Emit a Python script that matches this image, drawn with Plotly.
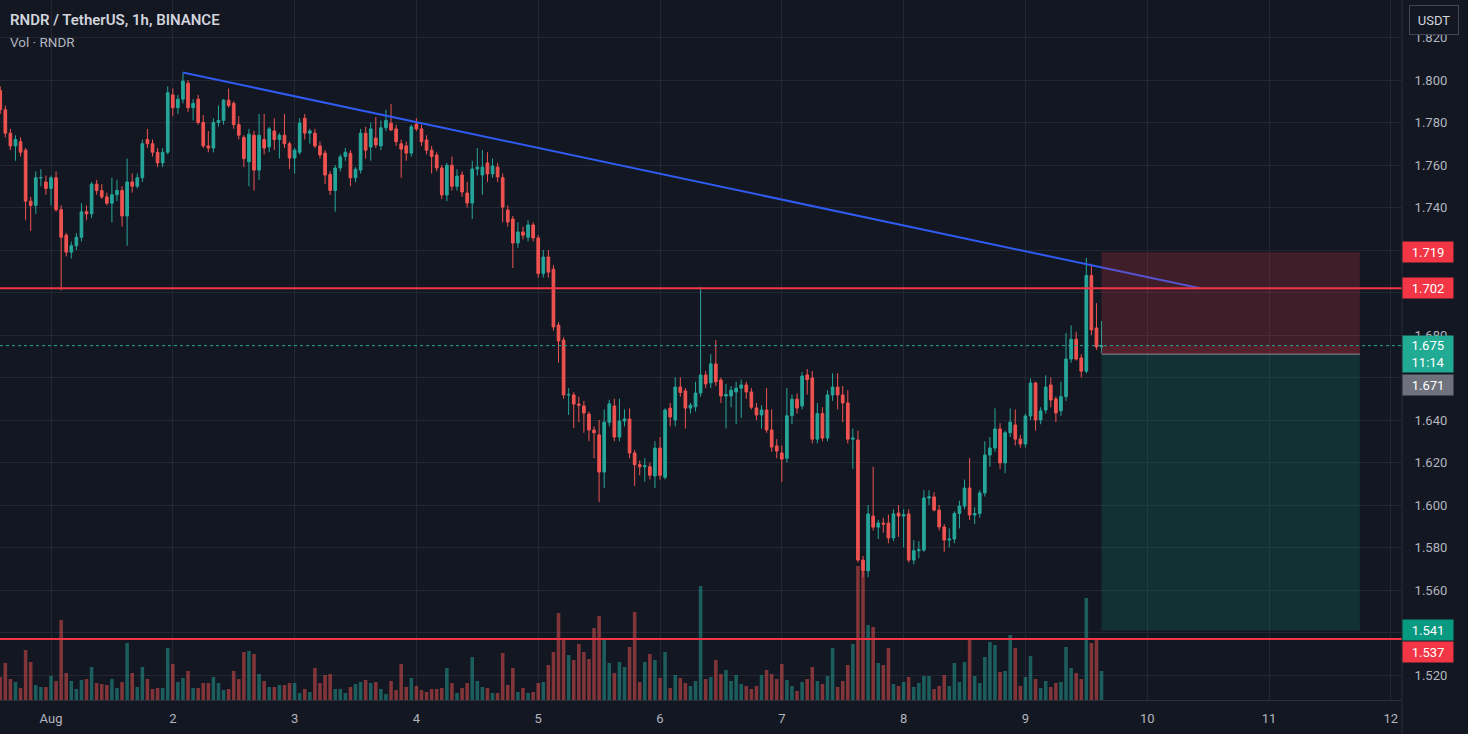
import pandas as pd
import plotly.graph_objects as go

# ---------------- data ----------------
first_candle = "2023-07-31 14:00"   # 1h candles

opens = [1.795,1.786,1.775,1.769,1.771,1.767,1.743,1.741,1.754,1.752,
         1.749,1.754,1.739,1.727,1.719,1.722,1.726,1.738,1.737,1.751,
         1.748,1.745,1.742,1.746,1.748,1.736,1.752,1.750,1.754,1.772,
         1.770,1.766,1.761,1.766,1.793,1.787,1.791,1.7985,1.787,1.791,
         1.780,1.769,1.768,1.780,1.781,1.7905,1.789,1.779,1.773,1.7615,
         1.774,1.7576,1.772,1.7685,1.776,1.772,1.774,1.770,1.7633,1.766,
         1.782,1.775,1.775,1.769,1.7656,1.7555,1.748,1.7586,1.764,1.7655,
         1.754,1.7576,1.775,1.7685,1.7727,1.769,1.7775,1.7797,1.777,1.770,
         1.769,1.7656,1.7793,1.777,1.7718,1.767,1.7647,1.7586,1.7459,1.7599,
         1.750,1.7553,1.7468,1.7421,1.7581,1.7553,1.761,1.7558,1.759,1.754,
         1.7388,1.7346,1.7233,1.7285,1.726,1.7318,1.7257,1.709,1.7167,1.711,
         1.6847,1.6776,1.6518,1.6518,1.6475,1.6466,1.6428,1.6353,1.633,1.6155,
         1.639,1.6466,1.632,1.6395,1.6405,1.6245,1.619,1.618,1.618,1.6137,
         1.6268,1.613,1.6456,1.640,1.6555,1.6537,1.6456,1.6462,1.6527,1.6612,
         1.6575,1.6664,1.6588,1.6513,1.6513,1.6532,1.655,1.6565,1.6532,1.6457,
         1.6424,1.6447,1.6353,1.6278,1.6245,1.622,1.642,1.6498,1.6466,1.6612,
         1.6598,1.631,1.643,1.6315,1.6518,1.6555,1.6518,1.648,1.631,1.6306,
         1.5741,1.569,1.5948,1.5896,1.5915,1.5915,1.5845,1.5962,1.5948,1.5958,
         1.5741,1.5785,1.5788,1.6033,1.6038,1.5976,1.5897,1.5835,1.584,1.596,
         1.5995,1.608,1.5953,1.596,1.6057,1.6235,1.6268,1.6358,1.6198,1.634,
         1.6377,1.631,1.6287,1.6419,1.6574,1.640,1.6447,1.6565,1.6499,1.6443,
         1.651,1.6687,1.678,1.6692,1.663,1.708,1.6833,1.6744]

highs = [1.797,1.788,1.777,1.774,1.773,1.768,1.745,1.757,1.758,1.755,
         1.755,1.757,1.741,1.728,1.724,1.728,1.742,1.741,1.752,1.753,
         1.751,1.747,1.754,1.753,1.750,1.763,1.756,1.756,1.772,1.777,
         1.772,1.768,1.768,1.797,1.796,1.793,1.8035,1.800,1.791,1.793,
         1.7835,1.776,1.782,1.788,1.791,1.796,1.790,1.783,1.774,1.777,
         1.776,1.784,1.784,1.778,1.782,1.775,1.784,1.771,1.768,1.782,
         1.784,1.777,1.777,1.771,1.767,1.757,1.760,1.765,1.768,1.767,
         1.759,1.777,1.778,1.780,1.7826,1.781,1.786,1.7887,1.779,1.772,
         1.771,1.779,1.782,1.779,1.774,1.769,1.766,1.760,1.761,1.764,
         1.758,1.757,1.752,1.762,1.768,1.767,1.766,1.763,1.761,1.756,
         1.741,1.736,1.733,1.731,1.734,1.733,1.727,1.720,1.720,1.713,
         1.686,1.679,1.655,1.653,1.651,1.649,1.644,1.637,1.640,1.645,
         1.6495,1.650,1.650,1.645,1.6455,1.626,1.621,1.622,1.620,1.630,
         1.632,1.6455,1.648,1.660,1.660,1.655,1.648,1.658,1.7026,1.663,
         1.671,1.6776,1.660,1.657,1.656,1.658,1.659,1.658,1.655,1.648,
         1.647,1.655,1.645,1.631,1.628,1.655,1.652,1.6525,1.6625,1.664,
         1.663,1.648,1.646,1.654,1.662,1.662,1.656,1.654,1.636,1.635,
         1.576,1.600,1.618,1.593,1.594,1.5955,1.598,1.600,1.598,1.598,
         1.5835,1.583,1.607,1.607,1.606,1.600,1.591,1.589,1.597,1.602,
         1.612,1.622,1.599,1.607,1.630,1.632,1.6455,1.6385,1.635,1.6455,
         1.645,1.633,1.643,1.6595,1.658,1.646,1.661,1.660,1.651,1.658,
         1.681,1.6845,1.6815,1.671,1.7162,1.7135,1.695,1.6866]

lows = [1.784,1.773,1.767,1.762,1.764,1.734,1.729,1.737,1.750,1.746,
        1.741,1.738,1.701,1.717,1.716,1.720,1.724,1.734,1.735,1.746,
        1.744,1.741,1.733,1.743,1.731,1.722,1.747,1.749,1.752,1.768,
        1.764,1.759,1.759,1.765,1.783,1.784,1.789,1.785,1.781,1.779,
        1.768,1.766,1.766,1.778,1.779,1.787,1.777,1.772,1.759,1.750,
        1.748,1.753,1.765,1.766,1.767,1.763,1.768,1.758,1.756,1.765,
        1.772,1.770,1.768,1.763,1.751,1.7459,1.738,1.757,1.762,1.750,
        1.752,1.756,1.763,1.762,1.768,1.767,1.776,1.776,1.769,1.754,
        1.762,1.764,1.776,1.769,1.765,1.756,1.757,1.744,1.743,1.748,
        1.748,1.745,1.740,1.7346,1.755,1.746,1.752,1.754,1.752,1.733,
        1.731,1.7115,1.721,1.725,1.724,1.724,1.707,1.707,1.707,1.682,
        1.667,1.650,1.6424,1.6362,1.639,1.634,1.630,1.622,1.6014,1.608,
        1.637,1.630,1.630,1.637,1.622,1.609,1.614,1.611,1.612,1.608,
        1.612,1.612,1.637,1.637,1.651,1.636,1.643,1.644,1.651,1.655,
        1.655,1.656,1.648,1.636,1.646,1.638,1.641,1.650,1.645,1.640,
        1.636,1.634,1.625,1.622,1.6108,1.620,1.638,1.643,1.645,1.652,
        1.629,1.629,1.630,1.630,1.649,1.645,1.639,1.629,1.617,1.573,
        1.566,1.566,1.588,1.584,1.587,1.582,1.583,1.585,1.580,1.573,
        1.572,1.575,1.578,1.600,1.597,1.588,1.578,1.580,1.582,1.589,
        1.598,1.593,1.591,1.594,1.604,1.618,1.625,1.617,1.615,1.632,
        1.628,1.627,1.627,1.640,1.635,1.638,1.643,1.646,1.639,1.642,
        1.649,1.667,1.668,1.660,1.662,1.680,1.673,1.6715]

closes = [1.786,1.775,1.769,1.772,1.766,1.743,1.741,1.754,1.754,1.749,
          1.754,1.739,1.726,1.719,1.722,1.726,1.738,1.737,1.751,1.748,
          1.745,1.742,1.746,1.748,1.736,1.752,1.750,1.754,1.770,1.770,
          1.766,1.761,1.766,1.794,1.787,1.791,1.7995,1.787,1.789,1.780,
          1.769,1.768,1.780,1.781,1.7905,1.788,1.779,1.774,1.763,1.7745,
          1.7576,1.774,1.768,1.777,1.772,1.774,1.770,1.7633,1.767,1.7797,
          1.775,1.776,1.769,1.7647,1.7553,1.748,1.7586,1.7638,1.766,1.754,
          1.758,1.775,1.767,1.777,1.7694,1.7775,1.781,1.7765,1.771,1.7675,
          1.7656,1.778,1.777,1.771,1.767,1.764,1.7586,1.7459,1.7599,1.750,
          1.7548,1.7473,1.7421,1.7581,1.759,1.759,1.7558,1.7595,1.7544,1.7402,
          1.7332,1.7233,1.7285,1.727,1.7318,1.7257,1.709,1.7167,1.7096,1.6838,
          1.6772,1.6518,1.652,1.6475,1.647,1.6433,1.6353,1.634,1.6155,1.639,
          1.6476,1.632,1.6395,1.6405,1.6245,1.619,1.618,1.6185,1.614,1.6268,
          1.614,1.6447,1.6414,1.6555,1.653,1.6456,1.647,1.6527,1.6612,1.657,
          1.6664,1.658,1.6513,1.652,1.654,1.655,1.6565,1.6532,1.646,1.6424,
          1.6447,1.6353,1.6273,1.6254,1.6216,1.642,1.6498,1.6456,1.6607,1.659,
          1.631,1.643,1.6315,1.6518,1.6555,1.6518,1.648,1.631,1.6315,1.5741,
          1.569,1.5958,1.5896,1.5915,1.591,1.5845,1.5958,1.5948,1.5955,1.5741,
          1.5785,1.579,1.6033,1.6038,1.5976,1.5897,1.5835,1.584,1.596,1.5995,
          1.608,1.5953,1.596,1.6057,1.6235,1.6268,1.6358,1.6198,1.634,1.639,
          1.631,1.6287,1.6419,1.6574,1.640,1.6443,1.6555,1.6494,1.6433,1.651,
          1.6687,1.678,1.6687,1.663,1.708,1.6824,1.6744,1.675]

volumes_k = [23,37,21,18,12,50,38,15,13,13,
             24,19,80,27,19,11,20,21,33,17,
             16,15,21,12,18,57,27,13,33,21,
             11,12,12,52,36,18,22,29,12,12,
             17,17,23,17,10,11,29,21,48,49,
             46,26,19,13,13,15,15,17,17,7,
             11,8,32,17,25,26,11,11,7,13,
             16,18,20,17,18,11,6,19,10,36,
             13,22,14,10,8,11,11,12,32,17,
             7,12,17,43,19,13,12,7,7,47,
             15,32,8,12,7,8,17,18,
             35,48,87,60,45,40,56,48,41,72,
             84,62,37,27,38,33,53,88,18,38,
             46,40,22,48,12,25,22,17,14,19,
             114,21,23,40,26,30,19,25,16,14,
             11,14,25,30,26,21,36,20,14,9,18,
             21,33,19,16,24,52,13,19,35,56,
             134,128,75,73,37,35,52,16,14,18,
             23,13,17,24,24,11,14,25,14,37,
             18,38,60,24,17,43,58,55,28,29,
             65,52,14,23,44,21,12,19,13,17,18,
             53,32,27,21,102,57,60,29]

price_ticks = [1.52,1.54,1.56,1.58,1.60,1.62,1.64,1.66,1.68,1.70,1.72,1.74,1.76,1.78,1.80,1.82]
# labels hidden behind the price-label boxes in the reference are left blank
price_tick_labels = ["1.520","","1.560","1.580","1.600","1.620","1.640","",
                     "1.680","","","1.740","1.760","1.780","1.800","1.820"]
day_ticks = ["2023-08-01","2023-08-02","2023-08-03","2023-08-04","2023-08-05","2023-08-06",
             "2023-08-07","2023-08-08","2023-08-09","2023-08-10","2023-08-11","2023-08-12"]
day_labels = ["Aug","2","3","4","5","6","7","8","9","10","11","12"]

trend_times = ["2023-08-02 02:00", "2023-08-10 10:24"]
trend_prices = [1.8035, 1.702]

resistance = 1.702
support = 1.537
last_price = 1.675
entry_price = 1.671
stop_price = 1.719
target_price = 1.541
position_start = "2023-08-09 15:00"
position_end = "2023-08-11 17:54"

# ---------------- styling ----------------
BG = "#131722"
GRID = "#232733"
UP = "#26a69a"
DOWN = "#ef5350"
LEVEL_RED = "#f23645"
TXT = "#b2b5be"
FONT = "Roboto"

times = pd.date_range(first_candle, periods=len(closes), freq="h")
vol_colors = ["rgba(38,166,154,0.5)" if c >= o else "rgba(239,83,80,0.5)"
              for o, c in zip(opens, closes)]

fig = go.Figure()

fig.add_trace(go.Bar(x=times, y=volumes_k, marker=dict(color=vol_colors, line=dict(width=0)),
                     yaxis="y2", showlegend=False, hoverinfo="skip"))

fig.add_trace(go.Candlestick(
    x=times, open=opens, high=highs, low=lows, close=closes,
    increasing=dict(line=dict(color=UP, width=1), fillcolor=UP),
    decreasing=dict(line=dict(color=DOWN, width=1), fillcolor=DOWN),
    whiskerwidth=0, showlegend=False, hoverinfo="skip"))

fig.add_trace(go.Scatter(x=trend_times, y=trend_prices, mode="lines",
                         line=dict(color="#2f5bf0", width=2), showlegend=False, hoverinfo="skip"))

shapes = []
# position tool zones
shapes.append(dict(type="rect", xref="x", yref="y", x0=position_start, x1=position_end,
                   y0=entry_price, y1=stop_price, fillcolor="rgba(242,54,69,0.2)",
                   line=dict(width=0), layer="above"))
shapes.append(dict(type="rect", xref="x", yref="y", x0=position_start, x1=position_end,
                   y0=target_price, y1=entry_price, fillcolor="rgba(8,153,129,0.2)",
                   line=dict(width=0), layer="above"))
shapes.append(dict(type="rect", xref="x", yref="y", x0=position_start, x1=position_end,
                   y0=entry_price, y1=last_price, fillcolor="rgba(242,54,69,0.12)",
                   line=dict(width=0), layer="above"))
shapes.append(dict(type="line", xref="x", yref="y", x0=position_start, x1=position_end,
                   y0=entry_price, y1=entry_price, line=dict(color="#8a8d96", width=1), layer="above"))
# horizontal levels
for lvl in (resistance, support):
    shapes.append(dict(type="line", xref="paper", yref="y", x0=0, x1=1, y0=lvl, y1=lvl,
                       line=dict(color=LEVEL_RED, width=2), layer="above"))
shapes.append(dict(type="line", xref="paper", yref="y", x0=0, x1=1, y0=last_price, y1=last_price,
                   line=dict(color=UP, width=1, dash="dot"), layer="above"))
# axis separator line
shapes.append(dict(type="line", xref="paper", yref="paper", x0=1, x1=1, y0=-0.06, y1=1,
                   line=dict(color="#2a2e39", width=1)))

annotations = []
def price_label(text, price, bg, yshift=0, height=16, yanchor="middle"):
    annotations.append(dict(xref="paper", yref="y", x=1, y=price, xanchor="left",
                            yanchor=yanchor, xshift=0, yshift=yshift, text=text, showarrow=False,
                            bgcolor=bg, width=46, height=height, borderpad=2, align="center",
                            font=dict(family=FONT, size=13, color="#ffffff")))

price_label(f"{stop_price:.3f}", stop_price, LEVEL_RED)
price_label(f"{resistance:.3f}", resistance, LEVEL_RED)
price_label(f"{last_price:.3f}<br>11:14", last_price, "#22ab94", yshift=11, height=32, yanchor="top")
price_label(f"{entry_price:.3f}", entry_price, "#6f727c", yshift=-31)
price_label(f"{target_price:.3f}", target_price, "#089981")
price_label(f"{support:.3f}", support, LEVEL_RED, yshift=-13)

annotations.append(dict(xref="paper", yref="paper", x=1434/1402, y=1-20/700, xanchor="center",
                        yanchor="middle", text="USDT", showarrow=False, bgcolor=BG,
                        bordercolor="#434651", borderwidth=1, width=42, height=22, borderpad=3,
                        font=dict(family=FONT, size=13, color="#d1d4dc")))
annotations.append(dict(xref="paper", yref="paper", x=0, y=1-20/700, xanchor="left", yanchor="middle",
                        xshift=8, text="RNDR / TetherUS, 1h, BINANCE", showarrow=False,
                        font=dict(family=FONT, size=15, color="#d1d4dc", weight=600)))
annotations.append(dict(xref="paper", yref="paper", x=0, y=1-42/700, xanchor="left", yanchor="middle",
                        xshift=8, text="Vol · RNDR", showarrow=False,
                        font=dict(family=FONT, size=13.5, color=TXT)))

fig.update_layout(
    width=1468, height=734,
    margin=dict(l=0, r=66, t=0, b=34),
    paper_bgcolor=BG, plot_bgcolor=BG,
    showlegend=False, hovermode=False,
    boxgap=0.25, bargap=0.3,
    shapes=shapes, annotations=annotations,
    xaxis=dict(type="date", range=["2023-07-31 13:57:04", "2023-08-12 02:12:00"],
               rangeslider=dict(visible=False),
               tickvals=day_ticks, ticktext=day_labels,
               showgrid=True, gridcolor=GRID, gridwidth=1,
               showline=True, linecolor="#2a2e39", linewidth=1,
               ticks="outside", ticklen=6, tickcolor=BG,
               tickfont=dict(family=FONT, size=13, color=TXT), zeroline=False),
    yaxis=dict(range=[1.50824, 1.83765], side="right",
               tickvals=price_ticks, ticktext=price_tick_labels,
               showgrid=True, gridcolor=GRID, gridwidth=1,
               showline=False, ticks="outside", ticklen=9, tickcolor=BG,
               tickfont=dict(family=FONT, size=13, color=TXT), zeroline=False),
    yaxis2=dict(overlaying="y", range=[0, 700], visible=False, fixedrange=True),
)

fig.write_html("out.html")
